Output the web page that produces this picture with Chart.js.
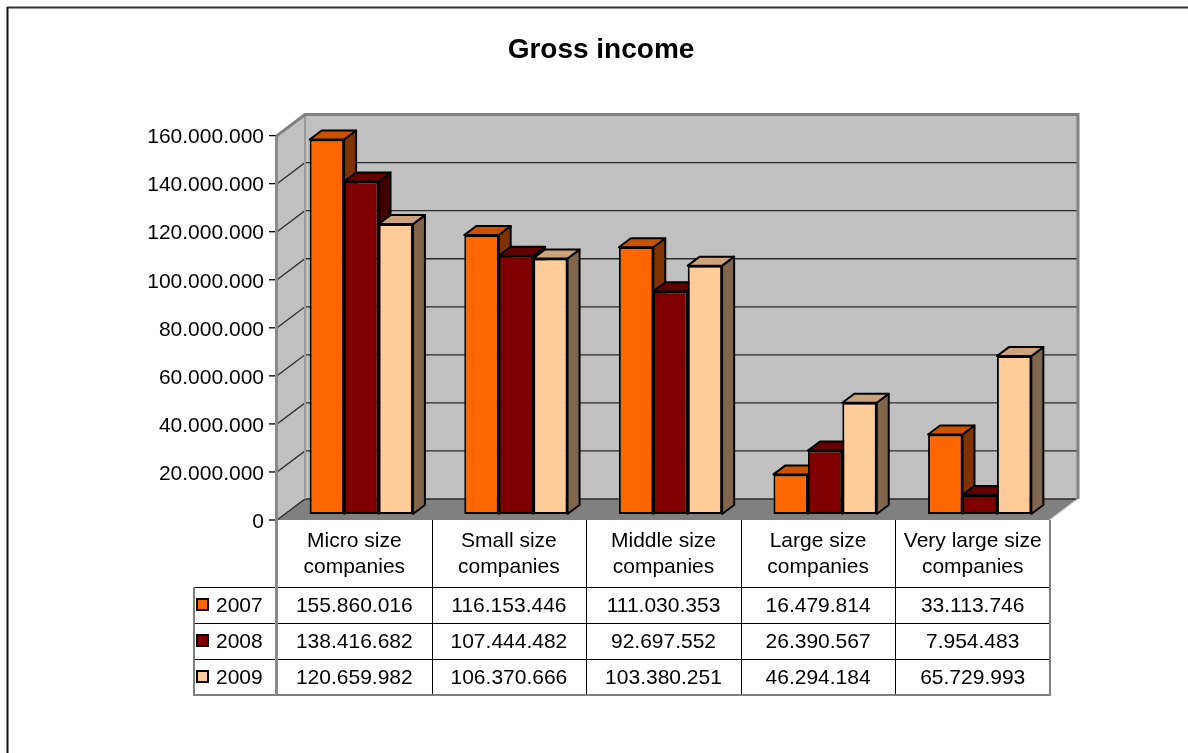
<!DOCTYPE html>
<html>
<head>
<meta charset="utf-8">
<script src="https://cdn.jsdelivr.net/npm/chart.js@4/dist/chart.umd.min.js"></script>
<style>
html,body{margin:0;padding:0;background:#fff;}
#wrap{width:1188px;height:753px;position:relative;overflow:hidden;}
canvas{display:block;}
</style>
</head>
<body>
<div id="wrap"><canvas id="c" width="1188" height="753"></canvas></div>
<script>
// ---- data ----
const categories = [
  ["Micro size", "companies"],
  ["Small size", "companies"],
  ["Middle size", "companies"],
  ["Large size", "companies"],
  ["Very large size", "companies"]
];
const seriesNames = ["2007", "2008", "2009"];
const values2007 = [155860016, 116153446, 111030353, 16479814, 33113746];
const values2008 = [138416682, 107444482, 92697552, 26390567, 7954483];
const values2009 = [120659982, 106370666, 103380251, 46294184, 65729993];
const yTickValues = [0, 20000000, 40000000, 60000000, 80000000, 100000000, 120000000, 140000000, 160000000];
const chartTitle = "Gross income";

// ---- styles ----
const FONT = "'Liberation Sans', Arial, sans-serif";
const frontColors = ["#FF6600", "#800000", "#FFCC99"];
const topColors = ["#CC5200", "#660000", "#CCA37A"];
const sideColors = ["#803300", "#400000", "#80664C"];
const WALL_DX = 28, WALL_DY = -21;   // depth of the 3D box
const BAR_OX = 7, BAR_OY = -6;       // offset of the bar front plane
const BAR_DX = 12, BAR_DY = -9;      // depth of a bar

const fmt = v => String(v).replace(/\B(?=(\d{3})+(?!\d))/g, ".");
const seriesValues = [values2007, values2008, values2009];

Chart.defaults.font.family = FONT;
Chart.defaults.color = "#000";

function poly(ctx, pts, fill, stroke, lw) {
  ctx.beginPath();
  ctx.moveTo(pts[0][0], pts[0][1]);
  for (let i = 1; i < pts.length; i++) ctx.lineTo(pts[i][0], pts[i][1]);
  ctx.closePath();
  if (fill) { ctx.fillStyle = fill; ctx.fill(); }
  if (stroke) { ctx.strokeStyle = stroke; ctx.lineWidth = lw || 1; ctx.stroke(); }
}
function line(ctx, x1, y1, x2, y2, color, lw) {
  ctx.beginPath();
  ctx.moveTo(x1, y1); ctx.lineTo(x2, y2);
  ctx.strokeStyle = color; ctx.lineWidth = lw; ctx.stroke();
}

const threeD = {
  id: "threeD",
  beforeDatasetsDraw(chart) {
    const ctx = chart.ctx, a = chart.chartArea, ys = chart.scales.y;
    const L = a.left, R = a.right, T = a.top, B = a.bottom;
    ctx.save();
    ctx.lineJoin = "miter";
    // left wall
    poly(ctx, [[L, B], [L, T], [L + WALL_DX, T + WALL_DY], [L + WALL_DX, B + WALL_DY]], "#C0C0C0");
    // back wall
    poly(ctx, [[L + WALL_DX, T + WALL_DY], [R + WALL_DX, T + WALL_DY], [R + WALL_DX, B + WALL_DY], [L + WALL_DX, B + WALL_DY]], "#C0C0C0");
    // floor
    poly(ctx, [[L, B], [R, B], [R + WALL_DX, B + WALL_DY], [L + WALL_DX, B + WALL_DY]], "#808080");
    // gridlines
    yTickValues.forEach(v => {
      const py = ys.getPixelForValue(v);
      ctx.beginPath();
      ctx.moveTo(L, py);
      ctx.lineTo(L + WALL_DX, py + WALL_DY);
      ctx.lineTo(R + WALL_DX, py + WALL_DY);
      ctx.strokeStyle = "#2a2a2a"; ctx.lineWidth = 1.3; ctx.stroke();
      // tick mark
      line(ctx, L - 8, py, L, py, "#000", 1.3);
    });
    // wall borders
    ctx.beginPath();
    ctx.moveTo(L + WALL_DX, B + WALL_DY);
    ctx.lineTo(L + WALL_DX, T + WALL_DY);
    ctx.strokeStyle = "#9a9a9a"; ctx.lineWidth = 2; ctx.stroke();
    ctx.beginPath();
    ctx.moveTo(L, T);
    ctx.lineTo(L + WALL_DX, T + WALL_DY);
    ctx.lineTo(R + WALL_DX, T + WALL_DY);
    ctx.lineTo(R + WALL_DX, B + WALL_DY);
    ctx.strokeStyle = "#808080"; ctx.lineWidth = 3; ctx.stroke();
    // floor edges
    ctx.beginPath();
    ctx.moveTo(R, B); ctx.lineTo(R + WALL_DX, B + WALL_DY);
    ctx.strokeStyle = "#e0e0e0"; ctx.lineWidth = 1.5; ctx.stroke();
    ctx.restore();

    // bar side and top faces, drawn in order so that later bars overlap earlier ones
    ctx.save();
    ctx.translate(BAR_OX, BAR_OY);
    ctx.lineJoin = "round";
    const n = chart.data.labels.length;
    for (let i = 0; i < n; i++) {
      for (let d = 0; d < chart.data.datasets.length; d++) {
        const el = chart.getDatasetMeta(d).data[i];
        const p = el.getProps(["x", "y", "base", "width"], true);
        const left = p.x - p.width / 2, right = p.x + p.width / 2, top = p.y, base = p.base;
        poly(ctx, [[right, top], [right + BAR_DX, top + BAR_DY], [right + BAR_DX, base + BAR_DY], [right, base]], sideColors[d], "#000", 2);
        poly(ctx, [[left, top], [left + BAR_DX, top + BAR_DY], [right + BAR_DX, top + BAR_DY], [right, top]], topColors[d], "#000", 2);
      }
    }
  },
  afterDatasetsDraw(chart) {
    chart.ctx.restore();
  }
};

const dataTable = {
  id: "dataTable",
  afterDraw(chart) {
    const ctx = chart.ctx, a = chart.chartArea;
    const L = a.left, R = a.right, B = a.bottom, T = a.top;
    const n = chart.data.labels.length;
    const catW = (R - L) / n;
    const headerBottom = B + 67;
    const rowH = 36;
    const tableBottom = headerBottom + rowH * seriesValues.length;
    const legendLeft = 194;
    ctx.save();
    // inner vertical dividers
    for (let k = 1; k < n; k++) {
      const x = Math.round(L + k * catW) + 0.5;
      line(ctx, x, B, x, tableBottom, "#000", 1);
    }
    // horizontal row lines
    for (let r = 0; r < seriesValues.length; r++) {
      const y = headerBottom + r * rowH + 0.5;
      line(ctx, legendLeft, y, R, y, "#000", 1);
    }
    // outer borders
    line(ctx, legendLeft, headerBottom, legendLeft, tableBottom + 1, "#808080", 2);
    line(ctx, legendLeft, tableBottom, R + 1, tableBottom, "#808080", 2);
    line(ctx, R, B, R, tableBottom, "#808080", 2);
    line(ctx, L - 0.5, T, L - 0.5, tableBottom, "#8a8a8a", 3);
    // values and legend keys
    ctx.font = "21px " + FONT;
    ctx.textBaseline = "middle";
    for (let r = 0; r < seriesValues.length; r++) {
      const cy = headerBottom + r * rowH + rowH / 2;
      ctx.fillStyle = frontColors[r];
      ctx.fillRect(197, cy - 6, 11, 11);
      ctx.strokeStyle = "#000"; ctx.lineWidth = 2;
      ctx.strokeRect(197, cy - 6, 11, 11);
      ctx.fillStyle = "#000";
      ctx.textAlign = "left";
      ctx.fillText(seriesNames[r], 216, cy + 1);
      ctx.textAlign = "center";
      for (let i = 0; i < n; i++) {
        const cx = L + (i + 0.5) * catW;
        ctx.fillText(fmt(seriesValues[r][i]), cx, cy + 1);
      }
    }
    // outer frame of the picture
    line(ctx, 7, 7.5, 1188, 7.5, "#333", 2);
    line(ctx, 7.5, 7, 7.5, 753, "#111", 2);
    ctx.restore();
  }
};

new Chart(document.getElementById("c"), {
  type: "bar",
  data: {
    labels: categories,
    datasets: seriesNames.map((name, d) => ({
      label: name,
      data: seriesValues[d],
      backgroundColor: frontColors[d],
      borderColor: "#000",
      borderWidth: 2,
      borderSkipped: false,
      clip: false
    }))
  },
  options: {
    responsive: false,
    animation: false,
    devicePixelRatio: 1,
    layout: { padding: { left: 14, right: 0, top: 0, bottom: 0 } },
    datasets: { bar: { categoryPercentage: 0.668, barPercentage: 1 } },
    plugins: {
      legend: { display: false },
      tooltip: { enabled: false },
      title: {
        display: true,
        text: chartTitle,
        color: "#000",
        font: { family: FONT, size: 28, weight: "bold", lineHeight: 1.2 },
        padding: { top: 33, bottom: 69 }
      }
    },
    scales: {
      x: {
        grid: { display: false, drawTicks: false },
        border: { display: false },
        ticks: { color: "#000", font: { family: FONT, size: 21, lineHeight: 1.25 }, padding: 8, maxRotation: 0, minRotation: 0, autoSkip: false },
        afterFit(s) { s.height = 233; }
      },
      y: {
        min: 0,
        max: 160000000,
        grid: { display: false, drawTicks: false },
        border: { display: false },
        ticks: { color: "#000", font: { family: FONT, size: 21 }, padding: 13, labelOffset: 2, callback: v => fmt(v) },
        afterBuildTicks(s) { s.ticks = yTickValues.map(v => ({ value: v })); },
        afterFit(s) { s.width = 263; }
      },
      yRight: {
        position: "right",
        display: true,
        min: 0,
        max: 160000000,
        grid: { display: false, drawTicks: false },
        border: { display: false },
        ticks: { display: false },
        afterFit(s) { s.width = 138; }
      }
    }
  },
  plugins: [threeD, dataTable]
});
</script>
</body>
</html>
